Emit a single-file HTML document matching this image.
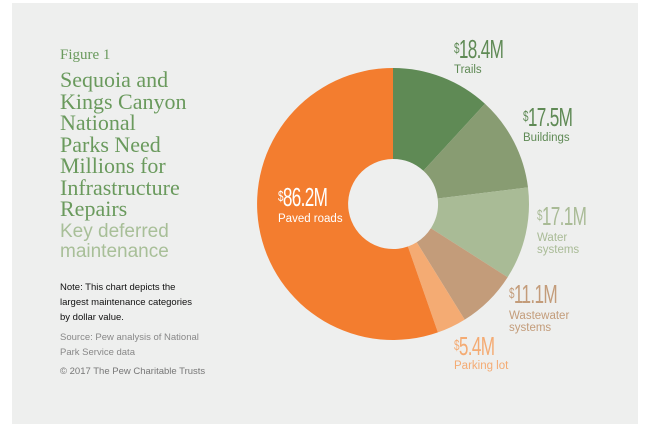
<!DOCTYPE html>
<html><head><meta charset="utf-8"><style>
body{margin:0;background:#fff;width:650px;height:426px;position:relative;overflow:hidden;font-family:"Liberation Sans",sans-serif}
#p{position:absolute;left:12px;top:3px;width:626px;height:421px;background:#eeefee}
.t{position:absolute;white-space:nowrap}
.ti{font-family:"Liberation Serif",serif;color:#6a9a5d;font-size:22px;line-height:21.5px;left:60px}
.v{font-family:"Liberation Sans",sans-serif;font-size:26px;letter-spacing:-1px;line-height:25px;transform:scaleX(0.66);transform-origin:0 0}
.v sup{font-size:15px;vertical-align:top;position:relative;top:-1px}
.l{font-size:11.5px;line-height:12px}
</style></head><body>
<div id="p"></div>
<div class="t" style="left:60px;top:47px;font-family:'Liberation Serif',serif;font-size:15px;color:#6a9a5d">Figure 1</div>
<div class="t ti" style="top:69px">Sequoia and<br>Kings Canyon<br>National<br>Parks Need<br>Millions for<br>Infrastructure<br>Repairs</div>
<div class="t" style="left:60px;top:222px;font-size:19px;line-height:20px;color:#a8bf98">Key deferred<br>maintenance</div>
<div class="t" style="left:60px;top:280px;font-size:9.5px;line-height:15px;color:#111">Note: This chart depicts the<br>largest maintenance categories<br>by dollar value.</div>
<div class="t" style="left:60px;top:330px;font-size:9.5px;line-height:15px;color:#888">Source: Pew analysis of National<br>Park Service data</div>
<div class="t" style="left:60px;top:366px;font-size:9.5px;color:#777">© 2017 The Pew Charitable Trusts</div>
<svg style="position:absolute;left:0;top:0" width="650" height="426">
<path d="M393,68 A136,136 0 0 1 484.95,103.8 L423.4,170.8 A45,45 0 0 0 393,159Z" fill="#5f8a55"/>
<path d="M484.95,103.8 A136,136 0 0 1 527.98,187.4 L437.7,198.5 A45,45 0 0 0 423.4,170.8Z" fill="#889c72"/>
<path d="M527.98,187.4 A136,136 0 0 1 507.65,277.2 L430.9,228.2 A45,45 0 0 0 437.7,198.5Z" fill="#a9bb96"/>
<path d="M507.65,277.2 A136,136 0 0 1 464.7,319.6 L416.7,242.2 A45,45 0 0 0 430.9,228.2Z" fill="#c39c7a"/>
<path d="M464.7,319.6 A136,136 0 0 1 437.9,332.4 L407.9,246.5 A45,45 0 0 0 416.7,242.2Z" fill="#f4ab73"/>
<path d="M437.9,332.4 A136,136 0 1 1 393,68 L393,159 A45,45 0 1 0 407.9,246.5Z" fill="#f37d2f"/>
</svg>
<div class="t v" style="left:454px;top:37px;color:#5f8a55"><sup>$</sup>18.4M</div>
<div class="t l" style="left:454px;top:64px;color:#5f8a55">Trails</div>
<div class="t v" style="left:523px;top:105px;color:#5f8a55"><sup>$</sup>17.5M</div>
<div class="t l" style="left:523px;top:132px;color:#5f8a55">Buildings</div>
<div class="t v" style="left:537px;top:204px;color:#a9bb96"><sup>$</sup>17.1M</div>
<div class="t l" style="left:537px;top:232px;color:#a9bb96">Water<br>systems</div>
<div class="t v" style="left:509px;top:282px;color:#c39c7a"><sup>$</sup>11.1M</div>
<div class="t l" style="left:509px;top:310px;color:#c39c7a">Wastewater<br>systems</div>
<div class="t v" style="left:454px;top:334px;color:#f4ab73"><sup>$</sup>5.4M</div>
<div class="t l" style="left:454px;top:360px;color:#f4ab73">Parking lot</div>
<div class="t v" style="left:278px;top:185px;color:#fff"><sup>$</sup>86.2M</div>
<div class="t l" style="left:278px;top:213px;color:#fff">Paved roads</div>
</body></html>
